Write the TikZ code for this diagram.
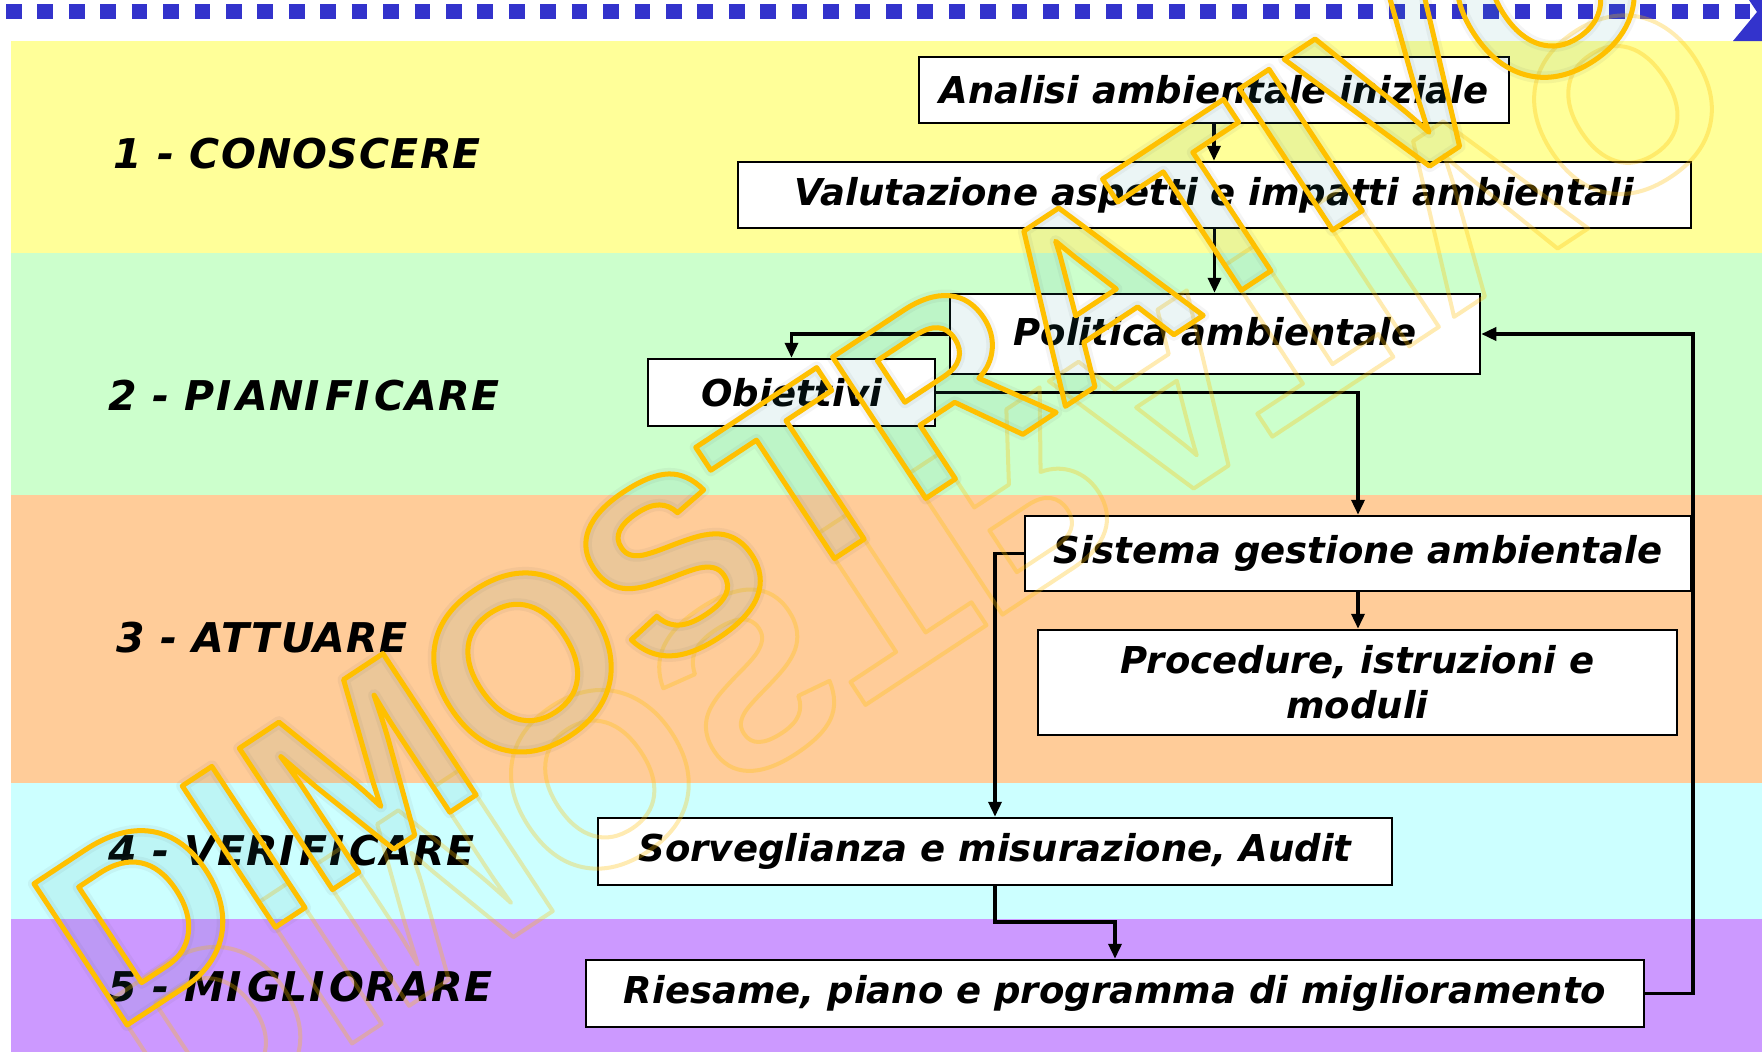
\documentclass[tikz,border=0pt]{standalone}
\usepackage{fontspec}
\usetikzlibrary{arrows.meta}
\newfontfamily\boxfont{DejaVu Sans Bold Oblique}
\newfontfamily\lblfont{DejaVu Sans Bold Oblique}[LetterSpace=3]
\newfontfamily\wmfont{Liberation Sans Bold}
\definecolor{bandY}{HTML}{FFFF99}
\definecolor{bandG}{HTML}{CCFFCC}
\definecolor{bandO}{HTML}{FFCC99}
\definecolor{bandC}{HTML}{CCFFFF}
\definecolor{bandP}{HTML}{CC99FF}
\definecolor{dotblue}{HTML}{3333CC}
\definecolor{wmyellow}{HTML}{FFC000}
\definecolor{wmteal}{HTML}{2A9A9A}
\newcommand\wmstroke[1]{\special{pdf:literal direct 1 Tr #1 w 1 j}}
\newcommand\wmend{\special{pdf:literal direct 0 Tr}}
\newcommand\Ik{I\kern5pt}
\begin{document}
\begin{tikzpicture}[x=1pt,y=-1pt,
  box/.style={draw=black, line width=2.5pt, fill=white, inner sep=0pt,
    font=\boxfont\fontsize{37}{45}\selectfont, align=center},
  lbl/.style={font=\lblfont\fontsize{41}{41}\selectfont, anchor=west, inner sep=0pt},
  conn/.style={line width=3.5pt, -{Triangle[length=15pt,width=13pt]}},
  wm/.style={transform shape, anchor=base, inner sep=0pt,
    font=\wmfont\fontsize{246}{246}\selectfont},
]
\useasboundingbox (0,0) rectangle (1762,1052);
% bands
\fill[bandY] (11,41) rectangle (1762,253);
\fill[bandG] (11,253) rectangle (1762,495);
\fill[bandO] (11,495) rectangle (1762,783);
\fill[bandC] (11,783) rectangle (1762,919);
\fill[bandP] (11,919) rectangle (1762,1052);
% dotted top line with arrow
\coordinate (d0) at (6,11.5);
\coordinate (d1) at (1750,11.5);
\draw[dotblue, line width=15pt, dash pattern=on 15.7pt off 15.73pt] (d0) -- (d1);
\fill[dotblue] (1749,0) -- (1757,12) -- (1733,41) -- (1762,41) -- (1762,0) -- cycle;
% boxes
\node[box, minimum width=590pt, minimum height=66pt] (A) at (1214,90) {Analisi ambientale iniziale};
\node[box, minimum width=953pt, minimum height=66pt] (V) at (1214.5,195) {Valutazione aspetti e impatti ambientali};
\node[box, minimum width=530pt, minimum height=80pt] (P) at (1215,334) {\raisebox{5pt}{Politica ambientale}};
\node[box, minimum width=287pt, minimum height=67pt] (O) at (791.5,392.5) {Obiettivi};
\node[box, minimum width=666pt, minimum height=75pt] (S) at (1358,553.5) {Sistema gestione ambientale};
\node[box, minimum width=639pt, minimum height=105pt] (Pr) at (1357.5,682.5) {Procedure, istruzioni e\\moduli};
\node[box, minimum width=794pt, minimum height=67pt] (Sv) at (995,851.5) {Sorveglianza e misurazione, Audit};
\node[box, minimum width=1058pt, minimum height=67pt] (R) at (1115,993.5) {Riesame, piano e programma di miglioramento};
% connectors
\coordinate (k) at (0,922);
\coordinate (fb) at (1693,0);
\draw[conn] (A.south) -- (A.south |- V.north);
\draw[conn] (V.south) -- (V.south |- P.north);
\draw[conn] (P.west) -| (O.north);
\draw[conn] (O.east) -| (S.north);
\draw[conn] (S.south) -- (S.south |- Pr.north);
\draw[conn] (S.west) -| (Sv.north);
\draw[conn] (Sv.south) -- (Sv.south |- k) -| (R.north);
\draw[conn] (R.east) -| (fb |- P.east) -- (P.east);
% phase labels
\node[lbl] (L1) at (113,154) {1 - CONOSCERE};
\node[lbl] (L2) at (108,396) {2 - P\Ik AN\Ik F\Ik CARE};
\node[lbl] (L3) at (116,638) {3 - ATTUARE};
\node[lbl] (L4) at (108,851) {4 - VER\Ik F\Ik CARE};
\node[lbl] (L5) at (108,987) {5 - M\Ik GL\Ik ORARE};
% watermark
\begin{scope}[shift={(893,520)}, rotate=33.4]
  \begin{scope}[opacity=0.3]
    \node[wm, yscale=-1, text=wmyellow] (wmr) at (0,-30) {\wmstroke{4}DIMOSTRATIVO\wmend};
  \end{scope}
  \begin{scope}[opacity=0.06]
    \node[wm, text=black!70] (wmh) at (0,0) {\wmstroke{12}DIMOSTRATIVO\wmend};
  \end{scope}
  \node[wm, text=wmteal, text opacity=0.09] (wmf) at (0,0) {DIMOSTRATIVO};
  \node[wm, text=wmyellow] (wms) at (0,0) {\wmstroke{5}DIMOSTRATIVO\wmend};
\end{scope}
\end{tikzpicture}
\end{document}
